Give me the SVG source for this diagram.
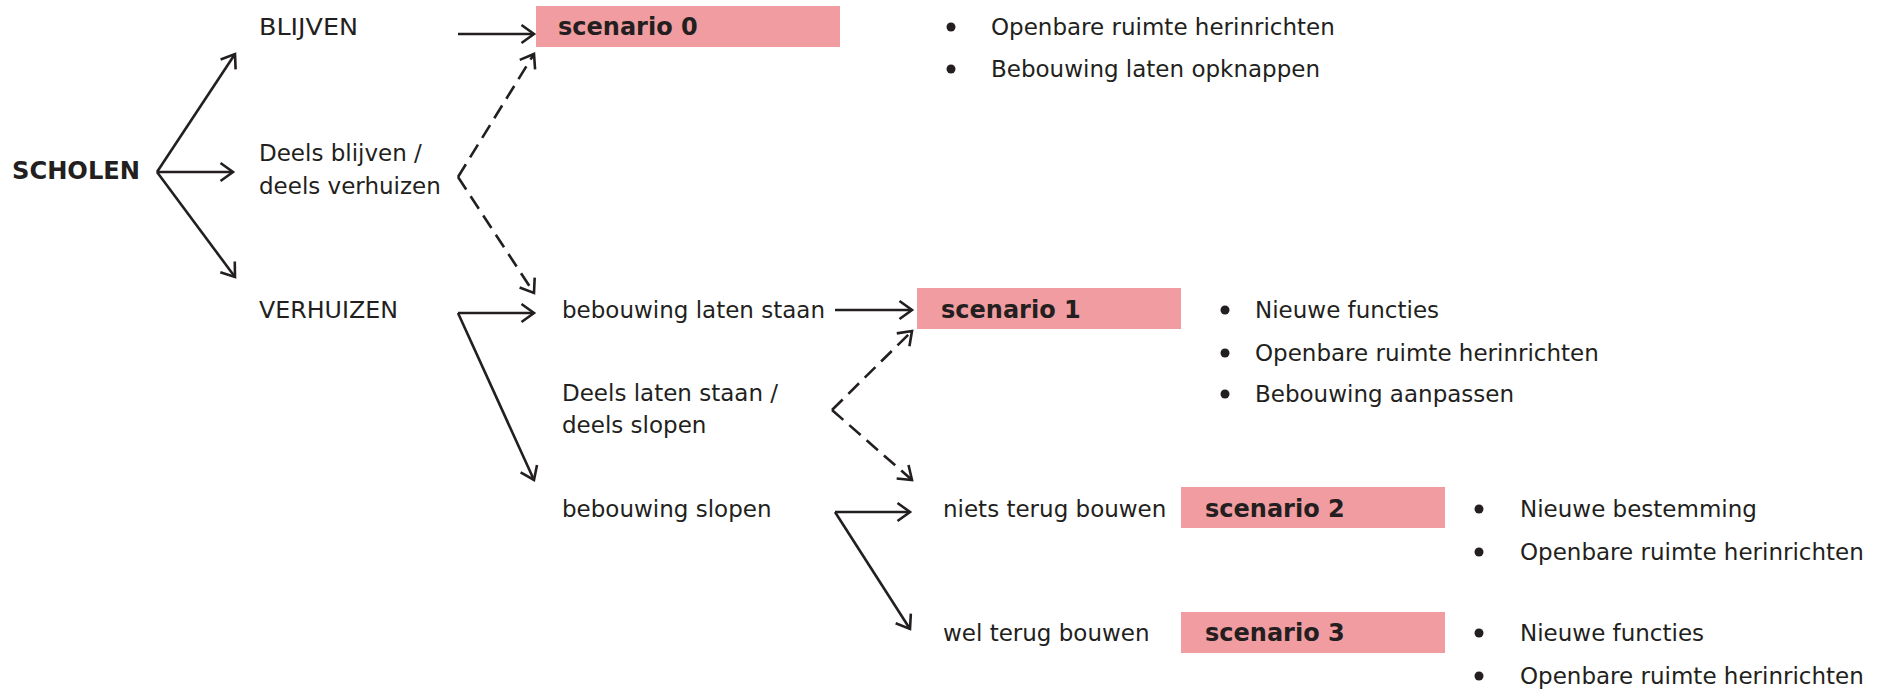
<svg xmlns="http://www.w3.org/2000/svg" width="1890" height="691" viewBox="0 0 1890 691">
<defs>
<style>
text{font-family:"DejaVu Sans","Liberation Sans",sans-serif;font-size:23px;fill:#231f20}
.b{font-weight:bold;font-size:24px}
.box{fill:#f19ca0}
.ln{fill:none;stroke:#231f20;stroke-width:2.6;marker-end:url(#ah)}
.d{stroke-dasharray:15 8}
.dot{fill:#231f20}
</style>
<marker id="ah" viewBox="0 0 17 22" refX="14.5" refY="11" markerWidth="17" markerHeight="22" markerUnits="userSpaceOnUse" orient="auto">
<path d="M2,2 L14.5,11 L2,20" fill="none" stroke="#231f20" stroke-width="2.6" stroke-dasharray="none"/>
</marker>
</defs>
<rect width="1890" height="691" fill="#fff"/>
<g id="connectors">
<path class="ln" d="M157,172 L235,54"/>
<path class="ln" d="M157,172 L233,172"/>
<path class="ln" d="M157,172 L235,277"/>
<path class="ln" d="M458,34 L534,34"/>
<path class="ln d" d="M458,177 L534,54"/>
<path class="ln d" d="M458,177 L534,293"/>
<path class="ln" d="M458,313 L534,313"/>
<path class="ln" d="M458,313 L534,480"/>
<path class="ln" d="M835,310 L912,310"/>
<path class="ln d" d="M832,410 L912,331"/>
<path class="ln d" d="M832,410 L912,480"/>
<path class="ln" d="M835,512 L910,512"/>
<path class="ln" d="M835,512 L910,629"/>
</g>
<g id="scholen"><text class="b" x="12" y="179" textLength="128" lengthAdjust="spacingAndGlyphs">SCHOLEN</text></g>
<g id="blijven"><text x="259" y="35" textLength="99" lengthAdjust="spacingAndGlyphs">BLIJVEN</text></g>
<g id="deels-blijven"><text x="259" y="161">Deels blijven /</text><text x="259" y="194">deels verhuizen</text></g>
<g id="verhuizen"><text x="259" y="318" textLength="139" lengthAdjust="spacingAndGlyphs">VERHUIZEN</text></g>
<g id="scenario0">
<rect class="box" x="536" y="6" width="304" height="41"/>
<text class="b" x="558" y="35">scenario 0</text>
</g>
<g id="list0">
<circle class="dot" cx="951" cy="27" r="4.5"/><text x="991" y="35">Openbare ruimte herinrichten</text>
<circle class="dot" cx="951" cy="69" r="4.5"/><text x="991" y="77">Bebouwing laten opknappen</text>
</g>
<g id="laten-staan"><text x="562" y="318">bebouwing laten staan</text></g>
<g id="scenario1">
<rect class="box" x="917" y="288" width="264" height="41"/>
<text class="b" x="941" y="318">scenario 1</text>
</g>
<g id="list1">
<circle class="dot" cx="1225" cy="310" r="4.5"/><text x="1255" y="318">Nieuwe functies</text>
<circle class="dot" cx="1225" cy="353" r="4.5"/><text x="1255" y="361">Openbare ruimte herinrichten</text>
<circle class="dot" cx="1225" cy="394" r="4.5"/><text x="1255" y="402">Bebouwing aanpassen</text>
</g>
<g id="deels-laten"><text x="562" y="401">Deels laten staan /</text><text x="562" y="433">deels slopen</text></g>
<g id="slopen"><text x="562" y="517">bebouwing slopen</text></g>
<g id="niets"><text x="943" y="517">niets terug bouwen</text></g>
<g id="scenario2">
<rect class="box" x="1181" y="487" width="264" height="41"/>
<text class="b" x="1205" y="517">scenario 2</text>
</g>
<g id="list2">
<circle class="dot" cx="1479" cy="509" r="4.5"/><text x="1520" y="517">Nieuwe bestemming</text>
<circle class="dot" cx="1479" cy="552" r="4.5"/><text x="1520" y="560">Openbare ruimte herinrichten</text>
</g>
<g id="wel"><text x="943" y="641">wel terug bouwen</text></g>
<g id="scenario3">
<rect class="box" x="1181" y="612" width="264" height="41"/>
<text class="b" x="1205" y="641">scenario 3</text>
</g>
<g id="list3">
<circle class="dot" cx="1479" cy="633" r="4.5"/><text x="1520" y="641">Nieuwe functies</text>
<circle class="dot" cx="1479" cy="676" r="4.5"/><text x="1520" y="684">Openbare ruimte herinrichten</text>
</g>
</svg>
